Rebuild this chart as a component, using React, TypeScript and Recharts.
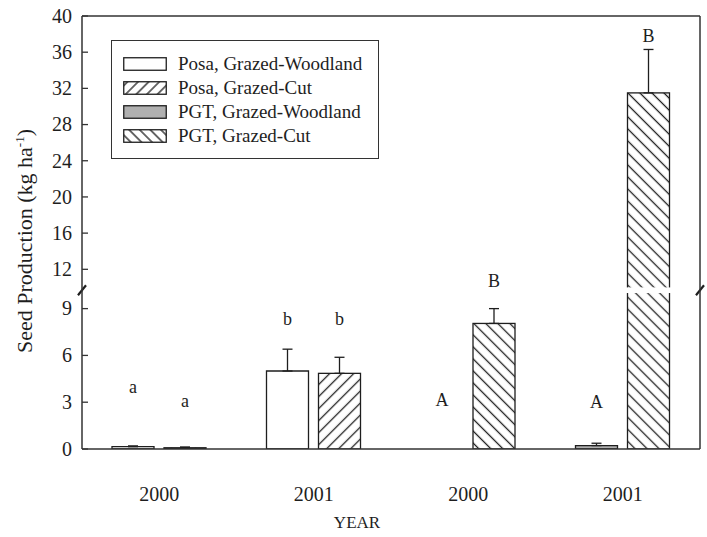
import React from 'react';
import {
    BarChart,
    Bar,
    XAxis,
    YAxis,
    ErrorBar,
    LabelList,
    Legend,
    ReferenceLine,
    Label,
    Cell,
} from 'recharts';

const years = ['2000', '2001', '2000', '2001'];
const species = ['Posa', 'Posa', 'PGT', 'PGT'];
// Grazed-Woodland / Grazed-Cut seed production (kg/ha) and SE
const woodland = [0.15, 5.0, 0, 0.22];
const woodlandErr: (number | null)[] = [0.05, 1.4, null, 0.15];
const cut = [0.08, 4.85, 8.05, 31.5];
const cutErr = [0.05, 1.03, 0.95, 4.8];
// significance letters and the height they sit at
const woodlandLetters = ['a', 'b', 'A', 'A'];
const woodlandLetterAt = [3.6, 7.95, 2.75, 2.63];
const cutLetters = ['a', 'b', 'B', 'B'];
const cutLetterAt = [2.7, 7.95, 10, 37.1];
const yTicks = [0, 3, 6, 9, 12, 16, 20, 24, 28, 32, 36, 40];

const legendItems = [
    { label: 'Posa, Grazed-Woodland', kind: 'white' },
    { label: 'Posa, Grazed-Cut', kind: 'fwd' },
    { label: 'PGT, Grazed-Woodland', kind: 'gray' },
    { label: 'PGT, Grazed-Cut', kind: 'back' },
];

const SERIF = '"Liberation Serif", "Times New Roman", serif';
const INK = '#1e1e1e';
const GRAY = '#b0b0b0';

// broken axis: 0-10 at full scale, small gap, then 10-40 compressed
const BREAK = 10;
const GAP = 0.36;
const UPPER = 0.58;
const toAxis = (v: number) => (v < BREAK ? v : BREAK + GAP + (v - BREAK) * UPPER);
const Y_MAX = toAxis(40);
const axisTicks = yTicks.map(toAxis);

const fillFor = (kind: string, prefix: string) => {
    if (kind === 'white') return '#ffffff';
    if (kind === 'gray') return GRAY;
    if (kind === 'fwd') return `url(#${prefix}Fwd)`;
    return `url(#${prefix}Back)`;
};

const rows = years.map((y, i) => {
    const w = toAxis(woodland[i]);
    const c = toAxis(cut[i]);
    const we = woodlandErr[i];
    return {
        key: `g${i}`,
        year: y,
        w,
        c,
        wErr: we == null ? null : [0, toAxis(woodland[i] + we) - w],
        cErr: [0, toAxis(cut[i] + cutErr[i]) - c],
        wPad: toAxis(woodlandLetterAt[i]) - w,
        cPad: toAxis(cutLetterAt[i]) - c,
        wLetter: woodlandLetters[i],
        cLetter: cutLetters[i],
        wKind: species[i] === 'Posa' ? 'white' : 'gray',
        cKind: species[i] === 'Posa' ? 'fwd' : 'back',
    };
});

const HatchDefs = ({ prefix, size }: { prefix: string; size: number }) => (
    <defs>
        <pattern id={`${prefix}Fwd`} patternUnits="userSpaceOnUse" width={size} height={size} patternTransform="rotate(45)">
            <rect width={size} height={size} fill="#fff" />
            <line x1={size / 2} y1={0} x2={size / 2} y2={size} stroke={INK} strokeWidth={1.3} />
        </pattern>
        <pattern id={`${prefix}Back`} patternUnits="userSpaceOnUse" width={size} height={size} patternTransform="rotate(-45)">
            <rect width={size} height={size} fill="#fff" />
            <line x1={size / 2} y1={0} x2={size / 2} y2={size} stroke={INK} strokeWidth={1.3} />
        </pattern>
    </defs>
);

const LegendBox = () => (
    <div
        style={{
            border: '1.5px solid #333',
            background: '#fff',
            padding: '11px 10px 10px 11px',
            fontFamily: SERIF,
            fontSize: 19,
            color: INK,
            boxSizing: 'border-box',
            width: 268,
        }}
    >
        {legendItems.map((it) => (
            <div key={it.label} style={{ display: 'flex', alignItems: 'center', height: 24 }}>
                <svg width={44} height={14} style={{ marginRight: 11, flex: 'none' }}>
                    <HatchDefs prefix={`lg${it.kind}`} size={7.5} />
                    <rect x={0.75} y={0.75} width={42.5} height={12.5} fill={fillFor(it.kind, `lg${it.kind}`)} stroke={INK} strokeWidth={1.3} />
                </svg>
                <span style={{ whiteSpace: 'nowrap' }}>{it.label}</span>
            </div>
        ))}
    </div>
);

// bar outline + white strip where the bar crosses the axis break
const CutShape = (props: any) => {
    const { x, y, width, height, fill, stroke, strokeWidth, background } = props;
    if (!height || height <= 0 || !width) return null;
    let strip = null;
    if (background && background.height) {
        const top = background.y + background.height * (1 - (BREAK + GAP) / Y_MAX);
        const bottom = background.y + background.height * (1 - BREAK / Y_MAX);
        if (y < top) {
            strip = <rect x={x - 2} y={top} width={width + 4} height={bottom - top} fill="#fff" />;
        }
    }
    return (
        <g>
            <rect x={x} y={y} width={width} height={height} fill={fill} stroke={stroke} strokeWidth={strokeWidth} />
            {strip}
        </g>
    );
};

const renderBreak = (props: any) => {
    const { viewBox } = props;
    if (!viewBox) return null;
    const y = viewBox.y;
    const xs = [viewBox.x, viewBox.x + viewBox.width];
    return (
        <g>
            {xs.map((x: number, i: number) => (
                <line key={i} x1={x - 4} y1={y + 5} x2={x + 4} y2={y - 5} stroke={INK} strokeWidth={2.2} />
            ))}
        </g>
    );
};

const renderYTitle = (props: any) => {
    const { viewBox } = props;
    const cx = 32;
    const cy = viewBox.y + viewBox.height / 2 + 8.5;
    return (
        <text
            transform={`translate(${cx},${cy}) rotate(-90)`}
            textAnchor="middle"
            fontFamily={SERIF}
            fontSize={22}
            fill={INK}
        >
            Seed Production (kg ha
            <tspan dy={-8} fontSize={13}>-1</tspan>
            <tspan dy={8}>)</tspan>
        </text>
    );
};

const renderXTitle = (props: any) => {
    const { viewBox } = props;
    return (
        <text
            x={viewBox.x + viewBox.width / 2 - 34}
            y={viewBox.y + 79}
            textAnchor="middle"
            fontFamily={SERIF}
            fontSize={17}
            fill={INK}
        >
            YEAR
        </text>
    );
};

const formatY = (v: number) => {
    const i = axisTicks.findIndex((t) => Math.abs(t - v) < 1e-6);
    return i >= 0 ? String(yTicks[i]) : '';
};

const YTick = (props: any) => {
    const { x, y, payload } = props;
    return (
        <text x={x} y={y} dy="0.34em" textAnchor="end" fontFamily={SERIF} fontSize={20} fill={INK}>
            {formatY(payload.value)}
        </text>
    );
};

const XTick = (props: any) => {
    const { x, y, payload } = props;
    const idx = Number(String(payload.value).slice(1));
    return (
        <text x={x} y={y} dy="0.71em" textAnchor="middle" fontFamily={SERIF} fontSize={20} fill={INK}>
            {years[idx]}
        </text>
    );
};

const letterStyle = { fontSize: 18, fontFamily: SERIF, fill: INK };
const axisLine = { stroke: '#333', strokeWidth: 1.5 };

export default function App() {
    return (
        <div style={{ position: 'absolute', left: 0, top: 0, background: '#fff', fontFamily: SERIF }}>
            <BarChart
                width={707}
                height={537}
                data={rows}
                margin={{ top: 16, right: 3, bottom: 0, left: 0 }}
                barSize={42}
                barGap={10}
            >
                <HatchDefs prefix="bar" size={8.5} />
                <XAxis
                    dataKey="key"
                    interval={0}
                    tickLine={false}
                    tickMargin={32}
                    height={88}
                    axisLine={axisLine}
                    tick={<XTick />}
                >
                    <Label content={renderXTitle} />
                </XAxis>
                <YAxis
                    domain={[0, Y_MAX]}
                    ticks={axisTicks}
                    width={82}
                    tickSize={-6}
                    tickMargin={16}
                    axisLine={axisLine}
                    tickLine={{ stroke: '#333', strokeWidth: 1.3 }}
                    tick={<YTick />}
                    allowDataOverflow
                >
                    <Label content={renderYTitle} />
                </YAxis>
                <YAxis
                    yAxisId="right"
                    orientation="right"
                    domain={[0, Y_MAX]}
                    ticks={axisTicks}
                    tickFormatter={() => ''}
                    width={4}
                    tickSize={-6}
                    axisLine={axisLine}
                    tickLine={{ stroke: '#333', strokeWidth: 1.3 }}
                />
                <ReferenceLine y={Y_MAX} stroke="#333" strokeWidth={1.5} />

                <Bar dataKey="w" stackId="w" stroke={INK} strokeWidth={1.3} isAnimationActive={false}>
                    {rows.map((r) => (
                        <Cell key={r.key} fill={fillFor(r.wKind, 'bar')} />
                    ))}
                    <ErrorBar dataKey="wErr" width={5} stroke={INK} strokeWidth={1.3} />
                </Bar>
                <Bar dataKey="wPad" stackId="w" fill="none" stroke="none" isAnimationActive={false}>
                    <LabelList dataKey="wLetter" position="top" offset={0} style={letterStyle} />
                </Bar>
                <Bar dataKey="c" stackId="c" stroke={INK} strokeWidth={1.3} shape={CutShape} isAnimationActive={false}>
                    {rows.map((r) => (
                        <Cell key={r.key} fill={fillFor(r.cKind, 'bar')} />
                    ))}
                    <ErrorBar dataKey="cErr" width={5} stroke={INK} strokeWidth={1.3} />
                </Bar>
                <Bar dataKey="cPad" stackId="c" fill="none" stroke="none" isAnimationActive={false}>
                    <LabelList dataKey="cLetter" position="top" offset={0} style={letterStyle} />
                </Bar>

                <ReferenceLine y={BREAK + GAP / 2} stroke="none" label={renderBreak} />

                <Legend
                    content={<LegendBox />}
                    layout="vertical"
                    align="center"
                    verticalAlign="middle"
                    wrapperStyle={{ left: 111, top: 40, width: 268 }}
                />
            </BarChart>
        </div>
    );
}
